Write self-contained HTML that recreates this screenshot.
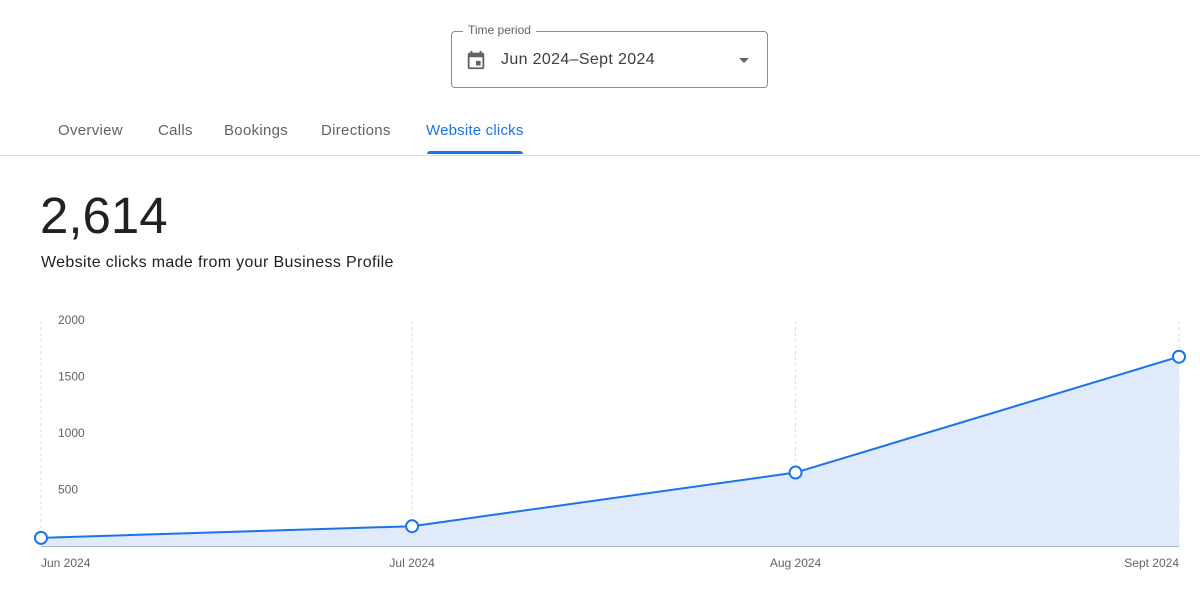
<!DOCTYPE html>
<html><head><meta charset="utf-8">
<style>
body{margin:0;width:1200px;height:600px;background:#fff;font-family:"Liberation Sans",Arial,sans-serif;overflow:hidden;position:relative}
.abs{position:absolute}
</style></head><body>
<div class="abs" style="left:451px;top:31px;width:317px;height:57px;border:1px solid #8a8d91;border-radius:4px;box-sizing:border-box"></div>
<div class="abs" style="left:463px;top:23px;padding:0 5px;background:#fff;font-size:12px;color:#5f6368">Time period</div>
<svg class="abs" style="left:465px;top:49px" width="22" height="22" viewBox="0 0 24 24"><path fill="#5f6368" d="M19 4h-1V2h-2v2H8V2H6v2H5c-1.1 0-2 .9-2 2v14c0 1.1.9 2 2 2h14c1.1 0 2-.9 2-2V6c0-1.1-.9-2-2-2zm0 16H5V9h14v11zM12 13h5v5h-5z"/></svg>
<div class="abs" style="left:501px;top:51px;font-size:16px;letter-spacing:0.35px;color:#3c4043">Jun 2024–Sept 2024</div>
<div class="abs" style="left:739px;top:58px;width:0;height:0;border-left:5px solid transparent;border-right:5px solid transparent;border-top:5px solid #5f6368"></div>
<div class="abs" style="left:58px;top:122px;font-size:15px;letter-spacing:0.3px;color:#5f6368">Overview</div>
<div class="abs" style="left:158px;top:122px;font-size:15px;letter-spacing:0.3px;color:#5f6368">Calls</div>
<div class="abs" style="left:224px;top:122px;font-size:15px;letter-spacing:0.3px;color:#5f6368">Bookings</div>
<div class="abs" style="left:321px;top:122px;font-size:15px;letter-spacing:0.3px;color:#5f6368">Directions</div>
<div class="abs" style="left:426px;top:122px;font-size:15px;letter-spacing:0.2px;color:#1a73e8">Website clicks</div>
<div class="abs" style="left:427px;top:151px;width:96px;height:3px;background:#1a73e8;border-radius:3px 3px 0 0"></div>
<div class="abs" style="left:0;top:155px;width:1200px;height:1px;background:#dadce0"></div>
<div class="abs" style="left:40px;top:186px;font-size:51px;color:#202124">2,614</div>
<div class="abs" style="left:41px;top:254px;font-size:16px;letter-spacing:0.35px;color:#202124">Website clicks made from your Business Profile</div>
<svg class="abs" id="chart" style="left:0;top:0" width="1200" height="600"></svg>
<script>
const categories=["Jun 2024","Jul 2024","Aug 2024","Sept 2024"];
const dayOffsets=[0,30,61,92];
const values=[72,175,650,1675];
const yTicks=[500,1000,1500,2000];
const NS="http://www.w3.org/2000/svg";
const svg=document.getElementById('chart');
const x=d=>41+d*(1138/92);
const y=v=>546-v*0.113;
function mk(t,a){const e=document.createElementNS(NS,t);for(const k in a)e.setAttribute(k,a[k]);svg.appendChild(e);return e;}
dayOffsets.forEach((d,i)=>{
 const g=mk('line',{x1:x(d),x2:x(d),y1:321,y2:546,stroke:'#dadce0','stroke-dasharray':'3,3'});
 
 
 const anchor=i==0?'start':(i==categories.length-1?'end':'middle');
 const t=mk('text',{x:x(d),y:567,'font-size':12,fill:'#5f6368','text-anchor':anchor,'font-family':'Liberation Sans,sans-serif'});
 t.textContent=categories[i];
 
 
});
yTicks.forEach(v=>{
 const t=mk('text',{x:58,y:y(v)+4,'font-size':12,fill:'#5f6368','font-family':'Liberation Sans,sans-serif'});
 t.textContent=v;
 
 
});
let pts=dayOffsets.map((d,i)=>x(d)+','+y(values[i])).join(' ');
const area=mk('polygon',{points:x(0)+',546 '+pts+' '+x(92)+',546',fill:'#e1eafb'});


const base=mk('line',{x1:41,x2:1179,y1:546.5,y2:546.5,stroke:'#a8b4c8'});


const line=mk('polyline',{points:pts,fill:'none',stroke:'#1a73e8','stroke-width':2});


dayOffsets.forEach((d,i)=>{
 const c=mk('circle',{cx:x(d),cy:y(values[i]),r:6,fill:'#fff',stroke:'#1a73e8','stroke-width':2});
 
 
});
</script>
</body></html>
